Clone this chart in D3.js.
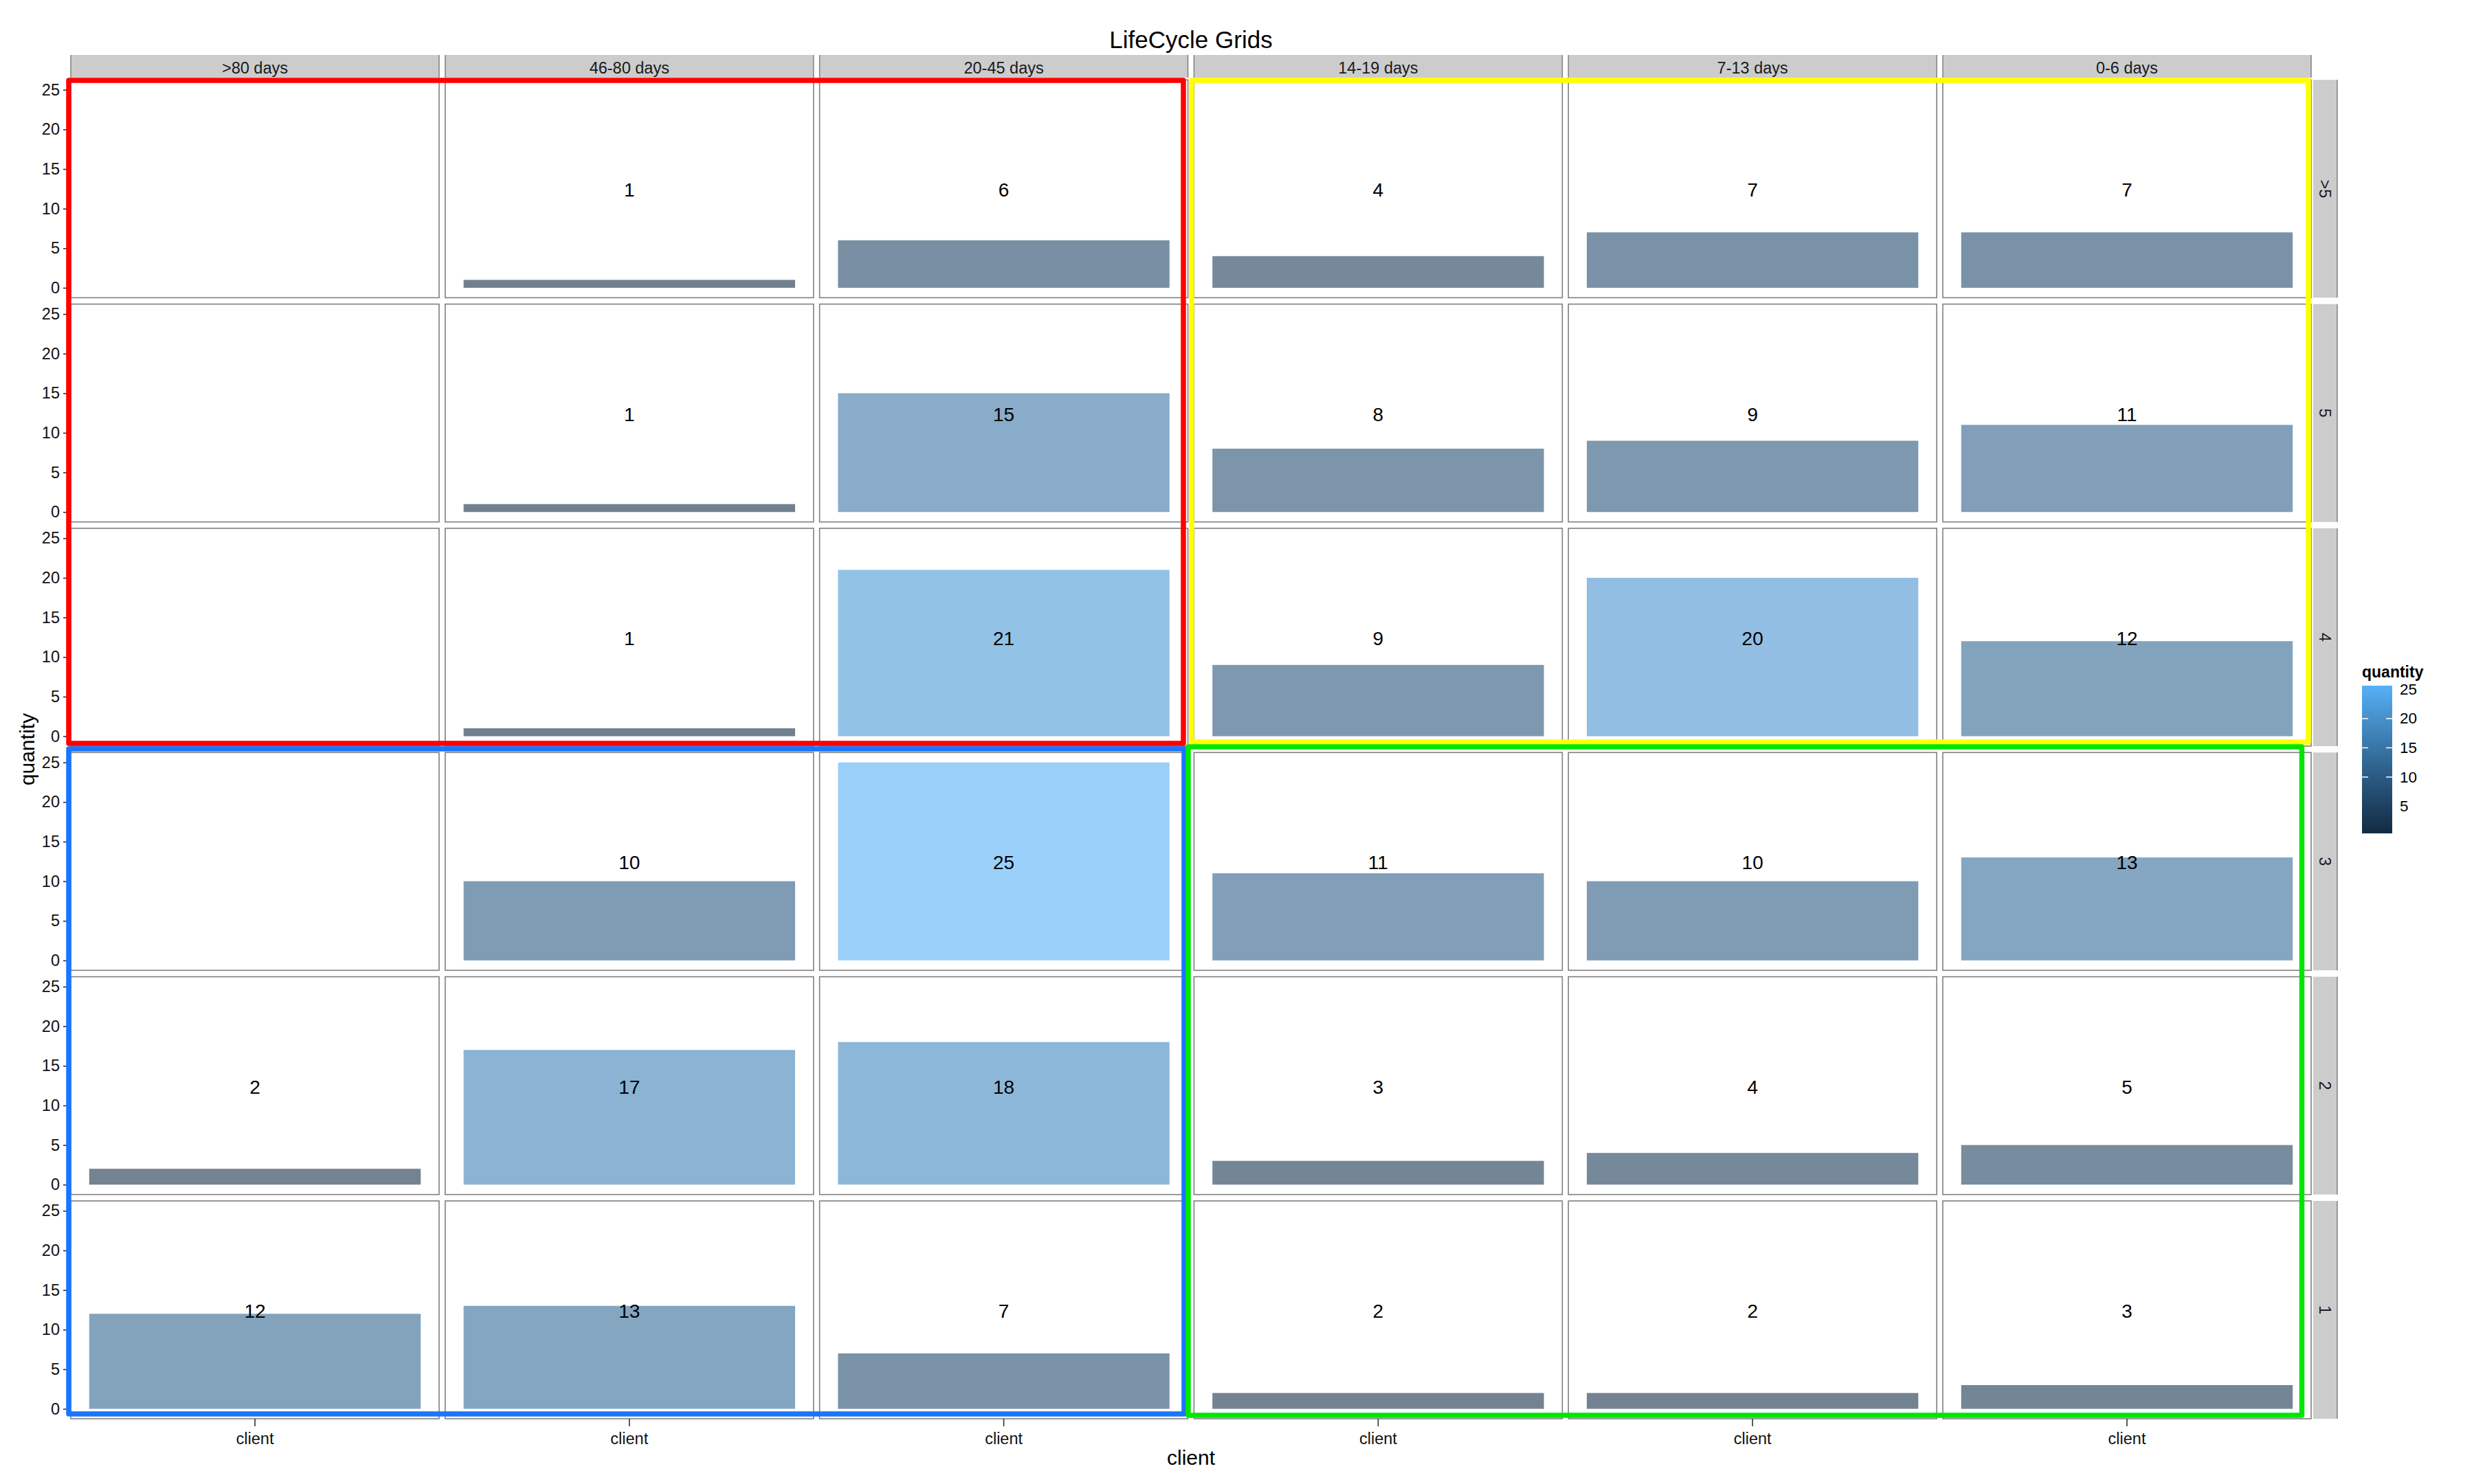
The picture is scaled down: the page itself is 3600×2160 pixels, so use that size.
<!DOCTYPE html>
<html lang="en">
<head>
    <meta charset="UTF-8">
    <script src="https://d3js.org/d3.v7.min.js"></script>
    <style>
        body { margin: 0; background: #fff; }
        text { font-family: "Liberation Sans", Arial, sans-serif; }
    </style>
</head>
<body>
    <svg id="chart" width="3600" height="2160"></svg>
    <script>
        // facet levels and values (rows = frequency, cols = recency)
        const lifecycle = [">80 days", "46-80 days", "20-45 days", "14-19 days", "7-13 days", "0-6 days"];
        const frequency = [">5", "5", "4", "3", "2", "1"];
        const quantity = [
            [null, 1, 6, 4, 7, 7],
            [null, 1, 15, 8, 9, 11],
            [null, 1, 21, 9, 20, 12],
            [null, 10, 25, 11, 10, 13],
            [2, 17, 18, 3, 4, 5],
            [12, 13, 7, 2, 2, 3]
        ];
        const yTicks = [0, 5, 10, 15, 20, 25];
        const legendBreaks = [5, 10, 15, 20, 25];
        const xCategory = ["client"];

        // highlight boxes drawn over the grid (col range, row range, colour)
        const boxes = [
            { cols: [0, 2], rows: [0, 2], color: "#ff0000", off: [-3, 0.7, -6.6, -4] },
            { cols: [3, 5], rows: [0, 2], color: "#ffff00", off: [-3.4, 0.7, -4, -6] },
            { cols: [0, 2], rows: [3, 5], color: "#1a75ff", off: [-3, -5.3, -5.6, -7] },
            { cols: [3, 5], rows: [3, 5], color: "#00e600", off: [-8.4, -8.3, -13.5, -5] }
        ];

        const width = 3600, height = 2160;
        const svg = d3.select("#chart");

        const cells = [];
        frequency.forEach((f, r) => lifecycle.forEach((l, c) => {
            cells.push({ row: f, col: l, r, c, value: quantity[r][c] });
        }));

        const col = d3.scaleBand().domain(lifecycle).range([103, 3363]).paddingInner(0.0162);
        const row = d3.scaleBand().domain(frequency).range([116.3, 2065]).paddingInner(0.0285);
        const pw = col.bandwidth(), ph = row.bandwidth();

        // within-panel scales (ggplot style 5% expansion)
        const yMax = d3.max(yTicks);
        const y = d3.scaleLinear().domain([-0.05 * yMax, yMax * 1.05]).range([ph, 0]);
        const x = d3.scaleBand().domain(xCategory).range([0, pw]).paddingInner(0.1).paddingOuter(0.05);

        const allValues = quantity.flat().filter(v => v != null);
        const color = d3.scaleLinear()
            .domain(d3.extent(allValues))
            .range(["#132B43", "#56B1F7"])
            .interpolate(d3.interpolateLab);

        // title
        svg.append("text")
            .attr("x", (col.range()[0] + col.range()[1]) / 2)
            .attr("y", 70)
            .attr("text-anchor", "middle")
            .style("font-size", "35px")
            .text("LifeCycle Grids");

        // top strips
        const topStrip = svg.append("g").selectAll("g")
            .data(lifecycle).enter().append("g")
            .attr("transform", d => `translate(${col(d)},80)`);
        topStrip.append("rect").attr("width", pw).attr("height", 33).attr("fill", "#cccccc");
        topStrip.append("line").attr("x1", 0).attr("x2", 0).attr("y2", 33).attr("stroke", "#808080").attr("stroke-width", 1.5);
        topStrip.append("line").attr("x1", pw).attr("x2", pw).attr("y2", 33).attr("stroke", "#808080").attr("stroke-width", 1.5);
        topStrip.append("text")
            .attr("x", pw / 2).attr("y", 19)
            .attr("text-anchor", "middle").attr("dominant-baseline", "central")
            .style("font-size", "23.5px").attr("fill", "#1a1a1a")
            .text(d => d);

        // right strips
        const rightStrip = svg.append("g").selectAll("g")
            .data(frequency).enter().append("g")
            .attr("transform", d => `translate(3366,${row(d)})`);
        rightStrip.append("rect").attr("width", 35).attr("height", ph).attr("fill", "#cccccc");
        rightStrip.append("line").attr("x1", 35).attr("x2", 35).attr("y2", ph).attr("stroke", "#808080").attr("stroke-width", 1.5);
        rightStrip.append("text")
            .attr("transform", `translate(17,${ph / 2}) rotate(90)`)
            .attr("text-anchor", "middle").attr("dominant-baseline", "central")
            .style("font-size", "23.5px").attr("fill", "#1a1a1a")
            .text(d => d);

        // panels
        const panel = svg.append("g").selectAll("g")
            .data(cells).enter().append("g")
            .attr("transform", d => `translate(${col(d.col)},${row(d.row)})`);

        panel.append("rect")
            .attr("width", pw).attr("height", ph)
            .attr("fill", "#fff").attr("stroke", "#7f7f7f").attr("stroke-width", 1.6);

        const filled = panel.filter(d => d.value != null);
        filled.append("rect")
            .attr("x", x("client"))
            .attr("y", d => y(d.value))
            .attr("width", x.bandwidth())
            .attr("height", d => y(0) - y(d.value))
            .attr("fill", d => color(d.value))
            .attr("fill-opacity", 0.6);

        filled.append("text")
            .attr("x", x("client") + x.bandwidth() / 2)
            .attr("y", y(yMax / 2) + 2)
            .attr("text-anchor", "middle").attr("dominant-baseline", "central")
            .style("font-size", "28px").attr("fill", "#000")
            .text(d => d.value);

        // y axes on the first column
        frequency.forEach(f => {
            const g = svg.append("g")
                .attr("transform", `translate(${col(lifecycle[0])},${row(f)})`)
                .call(d3.axisLeft(y).tickValues(yTicks).tickSize(11).tickPadding(5));
            g.select(".domain").remove();
            g.selectAll("line").attr("stroke", "#333").attr("stroke-width", 1.6);
            g.selectAll("text").style("font-size", "23.5px").attr("fill", "#111")
                .style("font-family", "'Liberation Sans', Arial, sans-serif");
        });

        // x axes on the bottom row
        lifecycle.forEach(l => {
            const g = svg.append("g")
                .attr("transform", `translate(${col(l)},${row(frequency[frequency.length - 1]) + ph})`)
                .call(d3.axisBottom(x).tickSize(11).tickPadding(9));
            g.select(".domain").remove();
            g.selectAll("line").attr("stroke", "#333").attr("stroke-width", 1.6);
            g.selectAll("text").style("font-size", "23.5px").attr("fill", "#111")
                .style("font-family", "'Liberation Sans', Arial, sans-serif");
        });

        // axis titles
        svg.append("text")
            .attr("x", (col.range()[0] + col.range()[1]) / 2)
            .attr("y", 2132)
            .attr("text-anchor", "middle")
            .style("font-size", "30px")
            .text("client");

        svg.append("text")
            .attr("transform", `translate(50,${(row.range()[0] + row.range()[1]) / 2}) rotate(-90)`)
            .attr("text-anchor", "middle")
            .style("font-size", "30px")
            .text("quantity");

        // highlight boxes
        svg.append("g").selectAll("rect")
            .data(boxes).enter().append("rect")
            .attr("x", d => col(lifecycle[d.cols[0]]) + d.off[0])
            .attr("y", d => row(frequency[d.rows[0]]) + d.off[1])
            .attr("width", d => col(lifecycle[d.cols[1]]) + pw + d.off[2] - col(lifecycle[d.cols[0]]) - d.off[0])
            .attr("height", d => row(frequency[d.rows[1]]) + ph + d.off[3] - row(frequency[d.rows[0]]) - d.off[1])
            .attr("fill", "none")
            .attr("stroke", d => d.color)
            .attr("stroke-width", 7.5)
            .attr("stroke-linejoin", "round");

        // colour bar legend
        const lg = { x: 3437, y: 998, w: 44, h: 215, nbin: 20 };
        const defs = svg.append("defs");
        const grad = defs.append("linearGradient")
            .attr("id", "qgrad").attr("x1", 0).attr("y1", 1).attr("x2", 0).attr("y2", 0);
        d3.range(0, 1.0001, 0.1).forEach(t => {
            const [lo, hi] = color.domain();
            grad.append("stop").attr("offset", t).attr("stop-color", color(lo + t * (hi - lo)));
        });

        svg.append("text")
            .attr("x", lg.x).attr("y", 986)
            .style("font-size", "23px").style("font-weight", "bold")
            .text("quantity");

        svg.append("rect")
            .attr("x", lg.x).attr("y", lg.y).attr("width", lg.w).attr("height", lg.h)
            .attr("fill", "url(#qgrad)");

        const half = lg.h * 0.5 / lg.nbin;
        const ly = d3.scaleLinear().domain(color.domain())
            .range([lg.y + lg.h - half, lg.y + half]);

        const inner = legendBreaks.slice(1, -1);
        svg.append("g").selectAll("line.l")
            .data(inner).enter().append("line")
            .attr("x1", lg.x).attr("x2", lg.x + 9)
            .attr("y1", d => ly(d)).attr("y2", d => ly(d))
            .attr("stroke", "#fff").attr("stroke-width", 1.5);
        svg.append("g").selectAll("line.r")
            .data(inner).enter().append("line")
            .attr("x1", lg.x + lg.w - 9).attr("x2", lg.x + lg.w)
            .attr("y1", d => ly(d)).attr("y2", d => ly(d))
            .attr("stroke", "#fff").attr("stroke-width", 1.5);

        svg.append("g").selectAll("text")
            .data(legendBreaks).enter().append("text")
            .attr("x", 3492).attr("y", d => ly(d))
            .attr("dominant-baseline", "central")
            .style("font-size", "22.5px")
            .text(d => d);
    </script>
</body>
</html>
